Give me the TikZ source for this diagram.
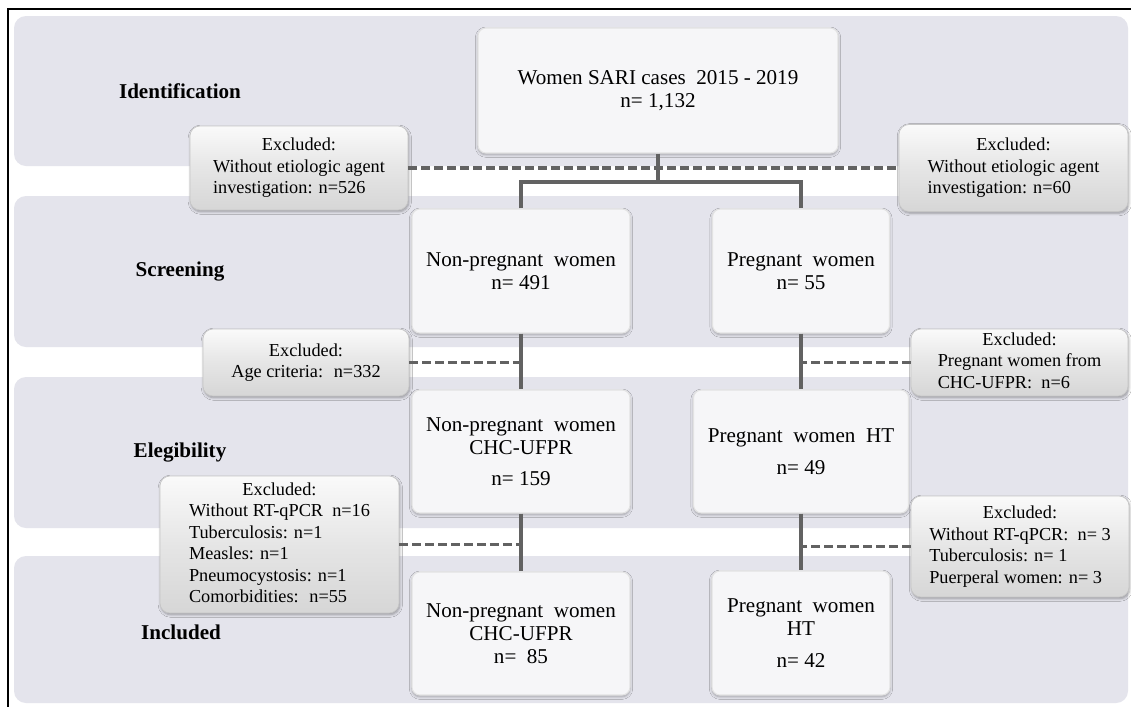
\documentclass[tikz,border=0pt]{standalone}
\usepackage{fontspec}
\setmainfont{Liberation Serif}
\usepackage{xcolor}
\definecolor{bandgray}{RGB}{228,228,236}
\definecolor{boxwhite}{RGB}{246,246,248}
\definecolor{linegray}{RGB}{98,98,98}
\usepackage{tikz}
\usetikzlibrary{positioning, calc, shadows.blur}
\newcommand{\excltext}[1]{\begin{tabular}{@{}l@{}}\multicolumn{1}{@{}c@{}}{Excluded:}\\ #1\end{tabular}}

\begin{document}
\begin{tikzpicture}[
      x=0.025cm, y=-0.025cm,
      band/.style    = {fill=bandgray, rounded corners=0.3cm},
      stage/.style   = {font=\fontsize{15}{18}\selectfont\bfseries, text=black},
      mainbox/.style = {
        rectangle, rounded corners=0.2cm,
        draw=gray!22, line width=0.8pt, fill=boxwhite,
        align=center, font=\fontsize{15}{16.4}\selectfont, text=black,
        blur shadow={shadow blur steps=5, shadow xshift=0pt, shadow yshift=-1.2pt, shadow opacity=30}
      },
      exclbox/.style = {
        rectangle, rounded corners=0.25cm,
        draw=gray!45, line width=0.5pt,
        top color=gray!4, bottom color=gray!32, middle color=gray!20,
        font=\fontsize{13}{15.3}\selectfont, text=black, inner sep=0pt,
        blur shadow={shadow blur steps=5, shadow xshift=0.6pt, shadow yshift=-1.2pt, shadow opacity=35}
      },
      conn/.style  = {draw=linegray, line width=2.8pt},
      dconn/.style = {draw=linegray, line width=2.3pt, dash pattern=on 6.4pt off 2.8pt}
    ]

      \useasboundingbox (0,0) rectangle (1131,706);
      \fill[white] (0,0) rectangle (1131,706);
      \draw[line width=1.1pt] (8,9) rectangle (1145,720);

      % ===================== Stage bands =====================
      \fill[band] (14,16)  rectangle (1128,166);
      \fill[band] (14,196) rectangle (1128,347);
      \fill[band] (14,377) rectangle (1128,528);
      \fill[band] (14,556) rectangle (1128,703);

      \node[stage] (ident) at (180,91)  {Identification};
      \node[stage] (scr)   at (180,272) {Screening};
      \node[stage] (eleg)  at (180,452) {Elegibility};
      \node[stage] (incl)  at (181,632) {Included};

      % ===================== Main boxes =====================
      \node[mainbox, minimum width=9cm, minimum height=3.125cm] (sari) at (658,90.5)
            {Women SARI cases \ 2015 - 2019\\n= 1,132};

      \node[mainbox, minimum width=5.45cm, minimum height=3.1cm] (nonpreg) at (521,271)
            {Non-pregnant \ women\\n= 491};
      \node[mainbox, minimum width=4.425cm, minimum height=3.1cm] (preg) at (801,271)
            {Pregnant \ women\\n= 55};

      \node[mainbox, minimum width=5.45cm, minimum height=3.075cm] (ncuf) at (521,451.5)
            {Non-pregnant \ women\\CHC-UFPR\\[6pt]n= 159};
      \node[mainbox, minimum width=5.375cm, minimum height=3.075cm] (preght) at (801,451.5)
            {Pregnant \ women \ HT\\[6pt]n= 49};

      \node[mainbox, minimum width=5.45cm, minimum height=3.075cm] (ncufin) at (521,633.5)
            {Non-pregnant \ women\\CHC-UFPR\\n= \ 85};
      \node[mainbox, minimum width=4.45cm, minimum height=3.1cm] (preghtin) at (801,633)
            {Pregnant \ women\\HT\\[6pt]n= 42};

      % ===================== Connectors =====================
      \draw[conn] (sari.south) -- ++(0,28) coordinate (split);
      \draw[conn] (nonpreg.north) -- (nonpreg.north |- split) -- (preg.north |- split) -- (preg.north);

      \draw[conn] (nonpreg.south) -- (ncuf.north);
      \draw[conn] (preg.south)    -- (preght.north);
      \draw[conn] (ncuf.south)    -- (ncufin.north);
      \draw[conn] (preght.south)  -- (preghtin.north);

      % ===================== Exclusions =====================
      \node[exclbox, minimum width=5.45cm, minimum height=2.1cm] (exidl) at (299,168)
            {\excltext{Without etiologic agent\\ investigation: n=526}};
      \node[exclbox, minimum width=5.725cm, minimum height=2.175cm] (exidr) at (1013.5,168)
            {\excltext{Without etiologic agent\\ investigation: n=60}};

      \node[exclbox, minimum width=5.15cm, minimum height=1.675cm] (exage) at (306,362.5)
            {\excltext{Age criteria: \ n=332}};
      \node[exclbox, minimum width=5.425cm, minimum height=1.675cm] (exchc) at (1019.5,362.5)
            {\excltext{Pregnant women from\\ CHC-UFPR: \ n=6}};

      \node[exclbox, minimum width=5.975cm, minimum height=3.425cm] (exrtl) at (279.5,544.5)
            {\excltext{Without RT-qPCR \ n=16\\ Tuberculosis: n=1\\ Measles: n=1\\ Pneumocystosis: n=1\\ Comorbidities: \ n=55}};
      \node[exclbox, minimum width=5.45cm, minimum height=2.525cm] (exrtr) at (1020,546.5)
            {\excltext{Without RT-qPCR: \ n= 3\\ Tuberculosis: n= 1\\ Puerperal women: n= 3}};

      % dashed exclusion lines
      \draw[dconn] (exidl.east) -- (exidr.west);
      \draw[dconn] (exage.east) -- (exage.east -| nonpreg.south);
      \draw[dconn] (exchc.west) -- (exchc.west -| preg.south);
      \draw[dconn] (exrtl.east) -- (exrtl.east -| ncuf.south);
      \draw[dconn] (exrtr.west) -- (exrtr.west -| preght.south);

    \end{tikzpicture}
\end{document}
